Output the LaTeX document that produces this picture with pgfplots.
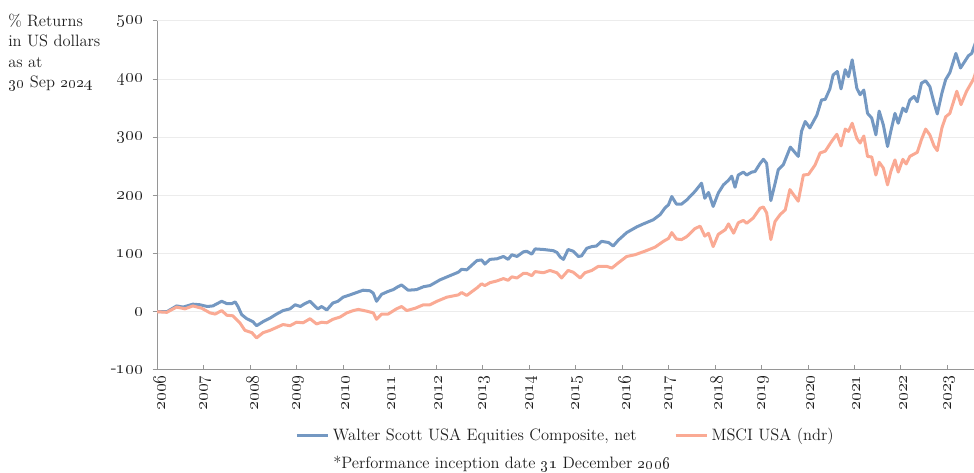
\documentclass[border=0pt]{standalone}
\usepackage{pgfplots}
\pgfplotsset{compat=1.18}
\definecolor{wsblue}{RGB}{116,152,194}
\definecolor{msred}{RGB}{250,170,148}
\definecolor{gridc}{RGB}{236,236,236}
\definecolor{axc}{RGB}{150,150,150}
\definecolor{txt}{RGB}{30,30,30}
\newcommand{\osn}[1]{\oldstylenums{#1}}
\begin{document}
\begin{tikzpicture}[x=1pt,y=1pt]
\useasboundingbox (0,0) rectangle (649.3,315.3);
\node[anchor=north west, align=left, font=\fontsize{11}{13.5}\selectfont, text=txt, inner sep=0pt] at (5.3,306) {\% Returns\\in US dollars\\as at\\\osn{30} Sep \osn{2024}};
\begin{axis}[
  at={(104.7pt,68.7pt)}, anchor=south west,
  scale only axis, width=544.6pt, height=232.7pt,
  xmin=2006, xmax=2023.57, ymin=-100, ymax=500,
  axis x line*=bottom, axis y line*=left,
  axis line style={axc, line width=0.6pt, -},
  xtick={2006,...,2023},
  xticklabels={\osn{2006},\osn{2007},\osn{2008},\osn{2009},\osn{2010},\osn{2011},\osn{2012},\osn{2013},\osn{2014},\osn{2015},\osn{2016},\osn{2017},\osn{2018},\osn{2019},\osn{2020},\osn{2021},\osn{2022},\osn{2023}},
  ytick={-100,0,100,200,300,400,500},
  yticklabels={-\osn{100},\osn{0},\osn{100},\osn{200},\osn{300},\osn{400},\osn{500}},
  xtick align=inside, ytick align=outside,
  major tick length=3pt,
  tick style={axc, line width=0.6pt},
  x tick label style={rotate=90, anchor=east, font=\fontsize{12}{14}\selectfont, text=txt, yshift=-1.5pt},
  y tick label style={font=\fontsize{12}{14}\selectfont, text=txt, xshift=-2.7pt},
  ymajorgrids, grid style={gridc, line width=0.6pt},
  legend columns=2,
  legend style={draw=none, fill=none, at={(0.169,-0.189)}, anchor=west, inner xsep=0pt, font=\fontsize{11}{13}\selectfont, text=txt, /tikz/every even column/.append style={column sep=23pt}},
  legend image code/.code={\draw[#1, line width=2pt] (0pt,0pt) -- (21pt,0pt);},
]
\addplot[wsblue, line width=2pt, line join=round] coordinates {
(2006.00,0) (2006.21,0) (2006.42,10) (2006.56,8) (2006.77,13) (2006.92,12) (2007.08,9) (2007.20,10) (2007.39,18) (2007.50,14) (2007.61,14) (2007.68,17) (2007.74,9) (2007.82,-5) (2007.93,-12) (2008.06,-17) (2008.14,-24) (2008.28,-17) (2008.43,-11) (2008.57,-4) (2008.71,2) (2008.86,5) (2008.97,12) (2009.08,9) (2009.18,14) (2009.29,18) (2009.40,9) (2009.46,5) (2009.54,9) (2009.65,3) (2009.78,15) (2009.89,18) (2010.00,25) (2010.15,29) (2010.29,33) (2010.43,37) (2010.58,36) (2010.65,32) (2010.72,18) (2010.83,30) (2010.97,35) (2011.08,38) (2011.18,43) (2011.26,46) (2011.40,37) (2011.58,38) (2011.73,43) (2011.87,45) (2012.09,55) (2012.30,62) (2012.48,68) (2012.55,73) (2012.66,72) (2012.88,88) (2012.98,89) (2013.05,82) (2013.16,90) (2013.31,91) (2013.45,95) (2013.55,90) (2013.63,98) (2013.74,95) (2013.88,103) (2013.95,104) (2014.06,99) (2014.13,108) (2014.31,107) (2014.52,105) (2014.60,102) (2014.67,94) (2014.74,90) (2014.84,107) (2014.95,104) (2015.06,95) (2015.13,96) (2015.24,109) (2015.35,112) (2015.45,113) (2015.56,121) (2015.71,119) (2015.81,113) (2015.92,123) (2016.10,136) (2016.32,146) (2016.46,151) (2016.67,158) (2016.82,167) (2016.92,178) (2017.00,184) (2017.07,198) (2017.17,185) (2017.28,185) (2017.39,192) (2017.57,207) (2017.71,221) (2017.78,195) (2017.86,205) (2017.96,181) (2018.07,204) (2018.18,218) (2018.29,226) (2018.36,233) (2018.43,214) (2018.50,235) (2018.61,240) (2018.68,235) (2018.79,240) (2018.86,241) (2018.97,255) (2019.04,262) (2019.11,255) (2019.20,191) (2019.29,220) (2019.36,244) (2019.47,253) (2019.62,283) (2019.79,267) (2019.86,310) (2019.94,327) (2020.04,316) (2020.19,338) (2020.29,364) (2020.37,365) (2020.47,383) (2020.54,407) (2020.63,413) (2020.71,383) (2020.80,416) (2020.87,404) (2020.95,433) (2021.05,384) (2021.12,373) (2021.20,381) (2021.28,341) (2021.37,333) (2021.46,304) (2021.53,345) (2021.62,321) (2021.71,284) (2021.78,310) (2021.87,341) (2021.94,324) (2022.04,350) (2022.11,344) (2022.19,364) (2022.28,370) (2022.35,361) (2022.44,393) (2022.53,397) (2022.62,387) (2022.71,359) (2022.78,340) (2022.88,376) (2022.96,399) (2023.05,411) (2023.18,444) (2023.28,419) (2023.45,440) (2023.52,444) (2023.60,462)
};
\addlegendentry{Walter Scott USA Equities Composite, net}
\addplot[msred, line width=2pt, line join=round] coordinates {
(2006.00,0) (2006.21,-1) (2006.42,8) (2006.60,5) (2006.77,10) (2006.96,6) (2007.14,-2) (2007.25,-4) (2007.39,2) (2007.50,-6) (2007.63,-7) (2007.78,-19) (2007.89,-32) (2008.04,-36) (2008.14,-45) (2008.28,-36) (2008.43,-32) (2008.57,-27) (2008.71,-22) (2008.86,-24) (2009.00,-18) (2009.14,-19) (2009.29,-12) (2009.43,-21) (2009.54,-18) (2009.65,-19) (2009.78,-13) (2009.94,-9) (2010.08,-2) (2010.22,2) (2010.33,4) (2010.51,1) (2010.65,-2) (2010.72,-13) (2010.83,-4) (2010.97,-4) (2011.15,5) (2011.26,9) (2011.37,2) (2011.55,6) (2011.73,12) (2011.87,12) (2012.02,18) (2012.23,25) (2012.48,29) (2012.55,33) (2012.66,28) (2012.88,41) (2012.98,48) (2013.05,45) (2013.16,50) (2013.31,53) (2013.45,57) (2013.55,54) (2013.63,60) (2013.74,58) (2013.88,66) (2013.95,66) (2014.06,62) (2014.13,69) (2014.31,67) (2014.45,71) (2014.60,67) (2014.70,58) (2014.84,71) (2014.95,68) (2015.10,58) (2015.20,67) (2015.35,71) (2015.49,78) (2015.67,78) (2015.78,75) (2015.92,84) (2016.10,95) (2016.28,98) (2016.49,104) (2016.71,111) (2016.89,121) (2017.00,126) (2017.07,136) (2017.17,125) (2017.28,124) (2017.39,129) (2017.57,143) (2017.68,147) (2017.78,130) (2017.86,135) (2017.96,112) (2018.07,133) (2018.22,141) (2018.29,151) (2018.40,135) (2018.50,153) (2018.61,157) (2018.68,152) (2018.82,161) (2018.97,178) (2019.04,180) (2019.11,170) (2019.20,124) (2019.29,155) (2019.40,167) (2019.51,175) (2019.61,210) (2019.79,190) (2019.90,235) (2020.01,236) (2020.15,252) (2020.26,273) (2020.37,276) (2020.51,293) (2020.62,305) (2020.71,285) (2020.80,314) (2020.87,310) (2020.95,324) (2021.05,298) (2021.12,290) (2021.20,302) (2021.28,267) (2021.37,266) (2021.46,235) (2021.53,257) (2021.62,247) (2021.71,218) (2021.78,241) (2021.87,261) (2021.94,240) (2022.04,262) (2022.11,254) (2022.19,267) (2022.28,271) (2022.35,274) (2022.44,296) (2022.53,314) (2022.62,304) (2022.71,285) (2022.78,277) (2022.88,316) (2022.96,335) (2023.05,341) (2023.20,379) (2023.29,356) (2023.41,379) (2023.56,400) (2023.60,410)
};
\addlegendentry{MSCI USA (ndr)}
\end{axis}
\node[anchor=base west, font=\fontsize{11}{13}\selectfont, text=txt, inner sep=0pt] at (222,2.7) {*Performance inception date \osn{31} December \osn{2006}};
\end{tikzpicture}
\end{document}
